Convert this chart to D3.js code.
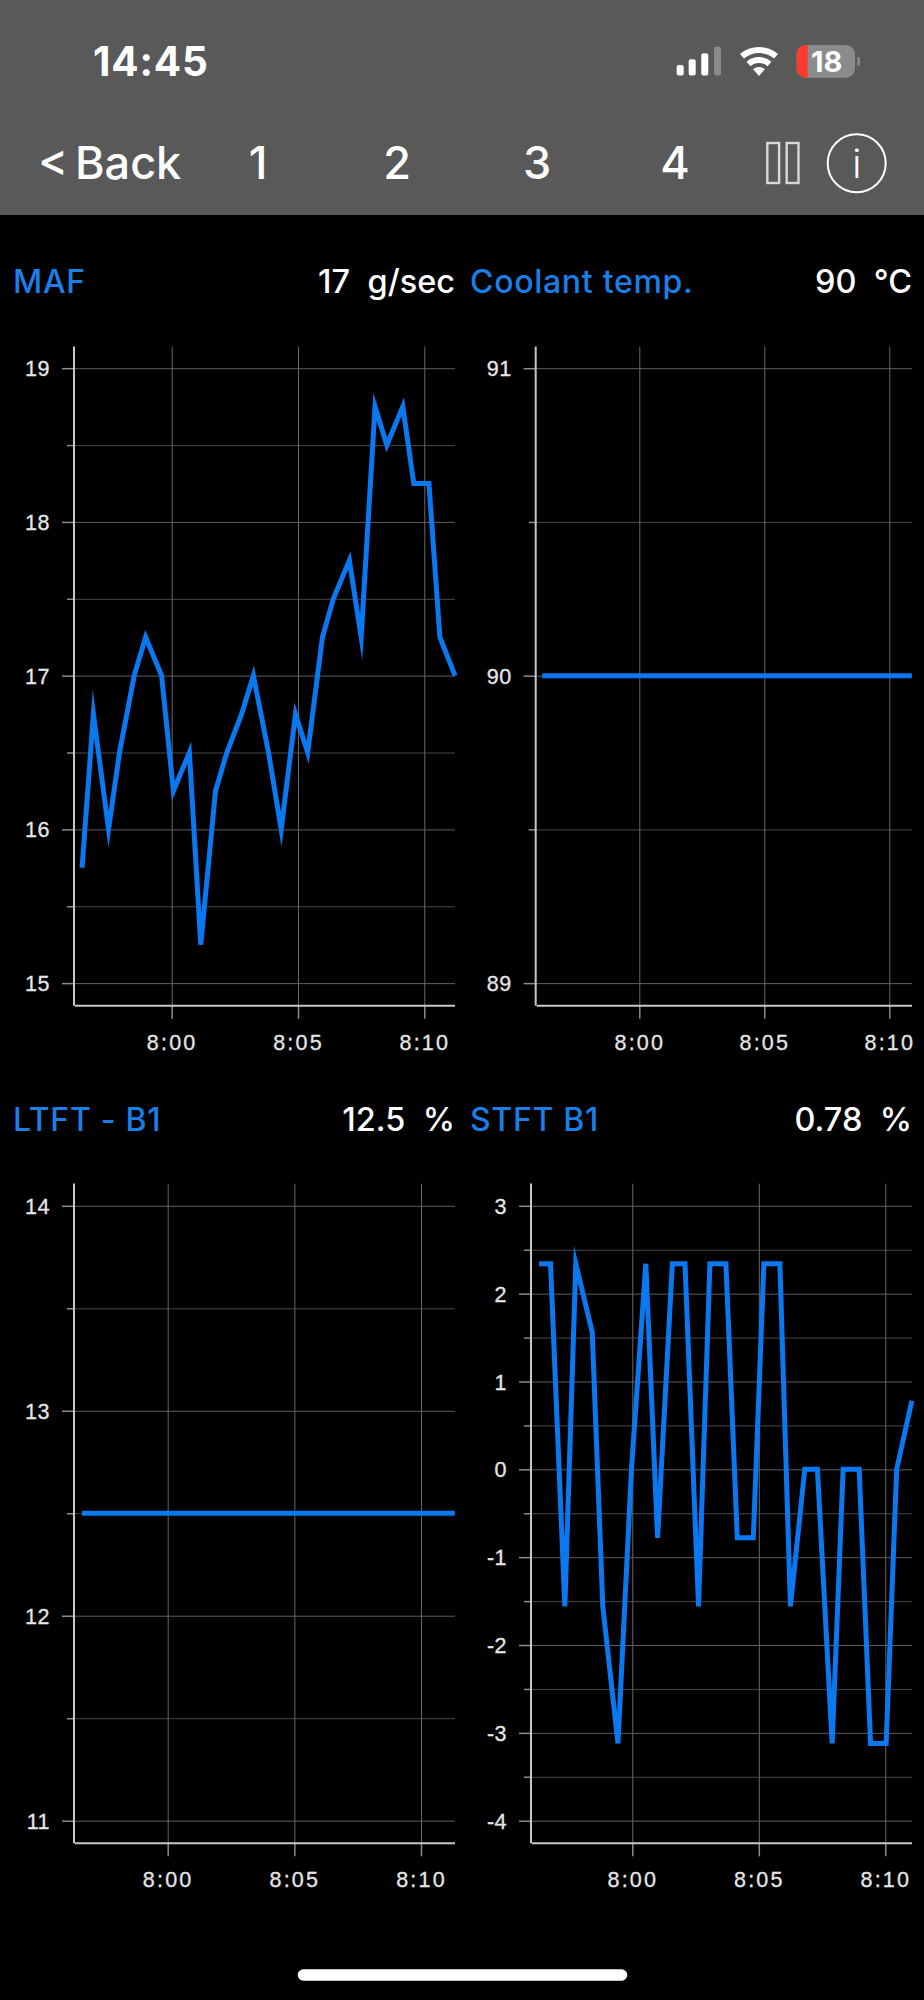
<!DOCTYPE html>
<html>
<head>
<meta charset="utf-8">
<script src="https://cdn.jsdelivr.net/npm/d3@7"></script>
<style>
  html, body { margin: 0; padding: 0; background: #000; }
  svg { display: block; }
  text { font-family: Inter, "Liberation Sans", sans-serif; }
  .tick text { font-family: "Liberation Sans", sans-serif; font-size: 21.5px; letter-spacing: 0.5px; fill: #e6e6e6; stroke: #e6e6e6; stroke-width: 0.3px; }
</style>
</head>
<body>
<div id="chart"></div>
<script>
// values
const mafTimes = ['7:56:27', '7:56:54', '7:57:30', '7:57:56', '7:58:31', '7:58:58', '7:59:36', '8:00:04', '8:00:42', '8:01:09',
    '8:01:44', '8:02:11', '8:02:46', '8:03:14', '8:03:50', '8:04:20', '8:04:54', '8:05:23', '8:05:58', '8:06:24',
    '8:07:02', '8:07:30', '8:08:03', '8:08:31', '8:09:09', '8:09:35', '8:10:11', '8:10:37', '8:11:13'];
const mafValues = [15.75, 16.75, 16, 16.5, 17, 17.25, 17, 16.25, 16.5, 15.25,
    16.25, 16.5, 16.75, 17, 16.5, 16, 16.75, 16.5, 17.25, 17.5,
    17.75, 17.25, 18.75, 18.5, 18.75, 18.25, 18.25, 17.25, 17];

const coolantTimes = ['7:56:07', '8:10:54'];
const coolantValues = [90, 90];

const ltftTimes = ['7:56:37', '8:11:20'];
const ltftValues = [12.5, 12.5];

const stftTimes = ['7:56:19', '7:56:46', '7:57:20', '7:57:46', '7:58:25', '7:58:50', '7:59:26', '7:59:58', '8:00:32', '8:01:00',
    '8:01:35', '8:02:05', '8:02:37', '8:03:04', '8:03:42', '8:04:09', '8:04:47', '8:05:12', '8:05:50', '8:06:15',
    '8:06:49', '8:07:19', '8:07:54', '8:08:20', '8:08:58', '8:09:25', '8:10:02', '8:10:27', '8:11:03'];
const stftValues = [2.34, 2.34, -1.56, 2.34, 1.56, -1.56, -3.12, 0, 2.34, -0.78,
    2.34, 2.34, -1.56, 2.34, 2.34, -0.78, -0.78, 2.34, 2.34, -1.56,
    0, 0, -3.12, 0, 0, -3.12, -3.12, 0, 0.78];

const titles = ['MAF', 'Coolant temp.', 'LTFT - B1', 'STFT B1'];
const readings = ['17', '90', '12.5', '0.78'];
const units = ['g/sec', '°C', '%', '%'];
const timeTicks = ['8:00:00', '8:05:00', '8:10:00'];
const yRanges = [[15, 19], [89, 91], [11, 14], [-4, 3]];
const navLabels = ['1', '2', '3', '4'];

const seriesTimes = [mafTimes, coolantTimes, ltftTimes, stftTimes];
const seriesValues = [mafValues, coolantValues, ltftValues, stftValues];

// pixel layout of the four panels
const panels = [
    { axisX: 74, right: 455, top: 346.5, bottom: 1005.8, tick0: 171.7, tick2: 424.3, yLow: 983.1, yHigh: 368.2, titleX: 13, titleY: 293 },
    { axisX: 535.7, right: 912, top: 346.5, bottom: 1005.8, tick0: 639.3, tick2: 889.3, yLow: 983.1, yHigh: 368.2, titleX: 470, titleY: 293 },
    { axisX: 74, right: 455, top: 1183.6, bottom: 1843.3, tick0: 167.7, tick2: 421, yLow: 1820.7, yHigh: 1205.8, titleX: 13, titleY: 1131 },
    { axisX: 531, right: 912, top: 1183.6, bottom: 1843.3, tick0: 632.3, tick2: 885.3, yLow: 1820.7, yHigh: 1205.8, titleX: 470, titleY: 1131 }
];

const blue = '#0a78f0';
const titleBlue = '#1a7fe6';
const parseTime = d3.timeParse('%H:%M:%S');

const svg = d3.select('#chart').append('svg').attr('width', 924).attr('height', 2000);
svg.append('rect').attr('width', 924).attr('height', 2000).attr('fill', '#000');

function drawHeader() {
    const top = svg.append('g');
    top.append('rect').attr('width', 924).attr('height', 215).attr('fill', '#595959');

    top.append('text').attr('x', 93).attr('y', 76).attr('fill', '#fff')
        .style('font-size', '40.5px').style('font-weight', 700).style('letter-spacing', '0.8px').text('14:45');

    // signal bars
    const bars = [[676.7, 65, '#fff'], [688.7, 59.3, '#fff'], [701.3, 53.3, '#fff'], [714, 46.7, '#8a8a8a']];
    top.selectAll('rect.bar').data(bars).enter().append('rect').attr('class', 'bar')
        .attr('x', d => d[0]).attr('y', d => d[1]).attr('width', 7).attr('height', d => 75.5 - d[1])
        .attr('rx', 2).attr('fill', d => d[2]);

    // wifi: a wedge and two bands
    const wifi = top.append('g').attr('transform', 'translate(759,76)');
    const wedge = Math.PI / 4.4;
    [[0, 9], [13, 19], [23, 29]].forEach(r => {
        wifi.append('path')
            .attr('d', d3.arc().innerRadius(r[0]).outerRadius(r[1]).startAngle(-wedge).endAngle(wedge))
            .attr('fill', '#fff');
    });

    // battery
    top.append('rect').attr('x', 796.7).attr('y', 45).attr('width', 58.3).attr('height', 32.7).attr('rx', 9).attr('fill', '#8b8b8b');
    top.append('path').attr('d', 'M807.7 45H805.7A9 9 0 0 0 796.7 54V68.7A9 9 0 0 0 805.7 77.7H807.7Z').attr('fill', '#ff3b30');
    top.append('rect').attr('x', 857.3).attr('y', 57).attr('width', 2.6).attr('height', 9).attr('rx', 1.3).attr('fill', '#8b8b8b');
    top.append('text').attr('x', 826.7).attr('y', 71.7).attr('text-anchor', 'middle').attr('fill', '#fff')
        .style('font-size', '29px').style('font-weight', 700).text('18');

    // nav row
    top.append('text').attr('x', 38).attr('y', 179).attr('fill', '#fff')
        .style('font-size', '45px').style('font-weight', 500).style('word-spacing', '-5px').text('< Back');
    const navX = [258, 397, 537, 675];
    top.selectAll('text.nav').data(navLabels).enter().append('text').attr('class', 'nav')
        .attr('x', (d, i) => navX[i]).attr('y', 179).attr('text-anchor', 'middle')
        .attr('fill', '#fff').style('font-size', '45px').style('font-weight', 500).text(d => d);

    // pause and info buttons
    [767.3, 786.7].forEach(x => {
        top.append('rect').attr('x', x).attr('y', 143).attr('width', 11.8).attr('height', 40)
            .attr('fill', 'none').attr('stroke', '#d8d8d8').attr('stroke-width', 2.4);
    });
    top.append('circle').attr('cx', 856.7).attr('cy', 163.3).attr('r', 29)
        .attr('fill', 'none').attr('stroke', '#fff').attr('stroke-width', 2);
    top.append('text').attr('x', 856.7).attr('y', 177.5).attr('text-anchor', 'middle').attr('fill', '#fff')
        .style('font-size', '39px').style('font-weight', 300).text('i');
}

function drawPanel(p, i) {
    const g = svg.append('g');
    const [low, high] = yRanges[i];

    const x = d3.scaleTime()
        .domain([parseTime(timeTicks[0]), parseTime(timeTicks[2])])
        .range([p.tick0, p.tick2]);
    const y = d3.scaleLinear().domain([low, high]).range([p.yLow, p.yHigh]);
    const tickTimes = timeTicks.map(parseTime);
    const yTicks = d3.range(low, high + 0.25, 0.5);

    // title row
    g.append('text').attr('x', p.titleX).attr('y', p.titleY).attr('fill', titleBlue)
        .style('font-size', '32px').style('font-weight', 500).style('letter-spacing', '0.7px').text(titles[i]);
    g.append('text').attr('x', p.right).attr('y', p.titleY).attr('text-anchor', 'end').attr('fill', '#fff')
        .style('font-size', '32.5px').style('font-weight', 500).style('white-space', 'pre')
        .text(`${readings[i]}  ${units[i]}`);

    // grid
    const hGrid = g.append('g').attr('transform', `translate(${p.axisX},0)`)
        .call(d3.axisLeft(y).tickValues(yTicks).tickSize(-(p.right - p.axisX)).tickFormat(''));
    hGrid.select('.domain').remove();
    hGrid.selectAll('line')
        .attr('stroke', d => Number.isInteger(d) ? '#5e5e5e' : '#484848');

    const vGrid = g.append('g').attr('transform', `translate(0,${p.bottom})`)
        .call(d3.axisBottom(x).tickValues(tickTimes).tickSize(-(p.bottom - p.top)).tickFormat(''));
    vGrid.select('.domain').remove();
    vGrid.selectAll('line').attr('stroke', '#686868');

    // y axis, half steps get a short unlabelled tick
    const yAxis = g.append('g').attr('transform', `translate(${p.axisX},0)`)
        .call(d3.axisLeft(y).tickValues(yTicks).tickSize(12).tickFormat(d => Number.isInteger(d) ? String(d) : ''));
    yAxis.select('.domain').remove();
    yAxis.selectAll('line')
        .attr('stroke', '#8c8c8c').attr('stroke-width', 1.5)
        .attr('x2', d => Number.isInteger(d) ? -12 : -7);
    yAxis.selectAll('text').attr('x', -24).attr('dy', '0.35em');

    // x axis
    const xAxis = g.append('g').attr('transform', `translate(0,${p.bottom})`)
        .call(d3.axisBottom(x).tickValues(tickTimes).tickSize(13).tickFormat(d3.timeFormat('%-H:%M')));
    xAxis.select('.domain').remove();
    xAxis.selectAll('line').attr('stroke', '#8c8c8c').attr('stroke-width', 1.5);
    xAxis.selectAll('text').attr('y', 44).attr('dy', 0).style('letter-spacing', '2.2px');

    g.append('line').attr('x1', p.axisX).attr('x2', p.axisX).attr('y1', p.top).attr('y2', p.bottom)
        .attr('stroke', '#c8c8c8').attr('stroke-width', 2);
    g.append('line').attr('x1', p.axisX + 1).attr('x2', p.right).attr('y1', p.bottom).attr('y2', p.bottom)
        .attr('stroke', '#c8c8c8').attr('stroke-width', 2);

    // series
    const rows = seriesTimes[i].map((t, k) => ({ t: parseTime(t), v: seriesValues[i][k] }));
    const line = d3.line().x(d => x(d.t)).y(d => y(d.v));
    g.append('path').datum(rows).attr('d', line)
        .attr('fill', 'none').attr('stroke', blue).attr('stroke-width', 5)
        .attr('stroke-linejoin', 'miter').attr('stroke-miterlimit', 10);
}

drawHeader();
panels.forEach(drawPanel);

// home indicator
svg.append('rect').attr('x', 297.7).attr('y', 1969.3).attr('width', 329.6).attr('height', 11.4).attr('rx', 5.7).attr('fill', '#fff');
</script>
</body>
</html>
